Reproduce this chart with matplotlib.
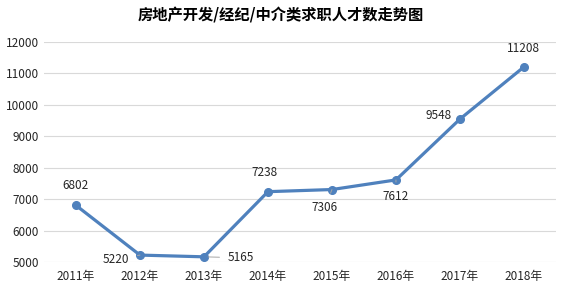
import matplotlib
matplotlib.use('Agg')
import matplotlib.pyplot as plt

plt.rcParams['font.family'] = ['Noto Sans CJK SC', 'DejaVu Sans']

years = ['2011年', '2012年', '2013年', '2014年', '2015年', '2016年', '2017年', '2018年']
values = [6802, 5220, 5165, 7238, 7306, 7612, 9548, 11208]
# label offsets in pixels (dx, dy) and whether a leader line is drawn
offsets = [(0, 20), (-24, -4), (37, -1), (-3, 19), (-7, -18), (0, -17), (-21, 4), (-1, 18)]
leaders = [False, True, True, False, True, True, False, False]

fig = plt.figure(figsize=(5.61, 2.86), dpi=100)
ax = fig.add_axes([0.0784, 0.0839, 0.9126, 0.7692])

x = list(range(len(years)))
ax.plot(x, values, color='#4f81bd', lw=2.3, marker='o', ms=5.5, zorder=3)

for i, v in enumerate(values):
	dx, dy = offsets[i]
	ap = None
	if leaders[i]:
		ap = dict(arrowstyle='-', color='#a6a6a6', lw=0.7, shrinkA=4, shrinkB=3)
	ax.annotate(str(v), (i, v), xytext=(dx, dy), textcoords='offset pixels',
		ha='center', va='center', fontsize=8.5, color='#262626', arrowprops=ap)

ax.set_xlim(-0.5, len(years) - 0.5)
ax.set_ylim(5000, 12000)
ax.set_yticks(range(5000, 12001, 1000))
ax.set_xticks(x)
ax.set_xticklabels(years)
ax.tick_params(axis='both', length=0, labelsize=8.5, labelcolor='#262626')
ax.tick_params(axis='x', pad=6)
ax.grid(axis='y', color='#d9d9d9', lw=0.8)
ax.set_axisbelow(True)
for s in ax.spines.values():
	s.set_visible(False)

fig.suptitle('房地产开发/经纪/中介类求职人才数走势图', fontsize=11, fontweight='bold', y=0.975)

fig.savefig('out.png', dpi=100)
